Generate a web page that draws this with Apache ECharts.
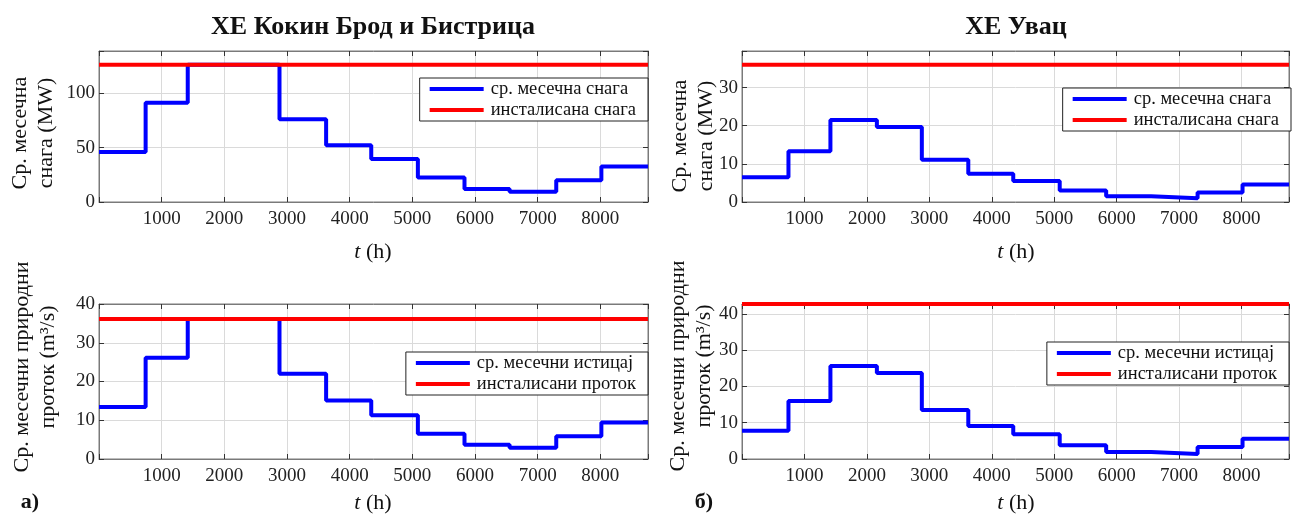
<!DOCTYPE html>
<html>
<head>
<meta charset="utf-8">
<script src="https://cdn.jsdelivr.net/npm/echarts@6/dist/echarts.min.js"></script>
<style>
  html, body { margin: 0; padding: 0; background: #fff; }
  #chart { width: 1292px; height: 517px; }
</style>
</head>
<body>
<div id="chart"></div>
<script>
// Month boundaries over one year, in hours
const monthEdges = [0, 744, 1416, 2160, 2880, 3624, 4344, 5088, 5832, 6552, 7296, 8016, 8760];
const xTicks = [1000, 2000, 3000, 4000, 5000, 6000, 7000, 8000];

// ХЕ Кокин Брод и Бистрица
const kbPower = [46, 91, 126, 126, 76, 52, 39.5, 22.5, 12, 9.5, 20, 32.5];
const kbPowerInstalled = 126;
const kbFlow = [13.4, 26.1, 36.1, 36.1, 22.0, 15.1, 11.3, 6.5, 3.7, 2.9, 5.9, 9.4];
const kbFlowInstalled = 36.1;

// ХЕ Увац
const uvPower = [6.5, 13.3, 21.5, 19.7, 11.1, 7.4, 5.5, 3.0, 1.5, 1.0, 2.5, 4.6];
const uvPowerInstalled = 36;
const uvFlow = [7.8, 16.0, 25.6, 23.7, 13.5, 9.1, 6.8, 3.8, 1.9, 1.4, 3.3, 5.6];
const uvFlowInstalled = 42.7;

// Series / legend names
const namePower = 'ср. месечна снага';
const namePowerInst = 'инсталисана снага';
const nameFlow = 'ср. месечни истицај';
const nameFlowInst = 'инсталисани проток';

const FONT = 'Liberation Serif';
const AXIS_GRAY = '#7a7a7a';
const GRID_GRAY = '#dadada';

function stepPoints(values) {
  const pts = values.map((v, i) => [monthEdges[i], v]);
  pts.push([monthEdges[monthEdges.length - 1], values[values.length - 1]]);
  return pts;
}
function flatLine(v) {
  return [[monthEdges[0], v], [monthEdges[monthEdges.length - 1], v]];
}

// Panel layouts
const panels = [
  { grid: { left: 99, top: 51, width: 549, height: 151 }, yMax: 138.6, yInt: 50,
    blue: kbPower, red: kbPowerInstalled, names: [namePower, namePowerInst], legend: { right: 644, top: 78 } },
  { grid: { left: 742, top: 51, width: 549, height: 151 }, yMax: 39.6, yInt: 10,
    blue: uvPower, red: uvPowerInstalled, names: [namePower, namePowerInst], legend: { right: 1, top: 88 } },
  { grid: { left: 99, top: 304, width: 549, height: 155 }, yMax: 40, yInt: 10,
    blue: kbFlow, red: kbFlowInstalled, names: [nameFlow, nameFlowInst], legend: { right: 644, top: 352 } },
  { grid: { left: 742, top: 304, width: 549, height: 155 }, yMax: 42.7, yInt: 10,
    blue: uvFlow, red: uvFlowInstalled, names: [nameFlow, nameFlowInst], legend: { right: 3, top: 342 } }
];

const grids = [], xAxes = [], yAxes = [], series = [], legends = [];
const tickStyle = { show: true, inside: true, length: 5, lineStyle: { color: '#333' } };
const lineStyleAxis = { show: true, onZero: false, lineStyle: { color: AXIS_GRAY, width: 1 } };

panels.forEach((p, i) => {
  grids.push(Object.assign({ show: true, borderColor: AXIS_GRAY, borderWidth: 1, backgroundColor: '#fff' }, p.grid));

  // bottom x axis with labels and grid
  xAxes.push({
    type: 'value', gridIndex: i, position: 'bottom', min: 0, max: 8760, interval: 1000,
    axisLine: lineStyleAxis, axisTick: tickStyle,
    axisLabel: {
      margin: 8, color: '#222', fontFamily: FONT, fontSize: 19,
      formatter: v => (xTicks.indexOf(v) >= 0 ? String(v) : '')
    },
    splitLine: { show: true, lineStyle: { color: GRID_GRAY, width: 1 } }
  });
  // top x axis: ticks only
  xAxes.push({
    type: 'value', gridIndex: i, position: 'top', min: 0, max: 8760, interval: 1000,
    axisLine: lineStyleAxis, axisTick: tickStyle,
    axisLabel: { show: false }, splitLine: { show: false }
  });
  // left y axis
  yAxes.push({
    type: 'value', gridIndex: i, position: 'left', min: 0, max: p.yMax, interval: p.yInt,
    axisLine: lineStyleAxis, axisTick: tickStyle,
    axisLabel: {
      margin: 4, color: '#222', fontFamily: FONT, fontSize: 19,
      formatter: v => (Math.abs(v / p.yInt - Math.round(v / p.yInt)) < 1e-6 ? String(v) : '')
    },
    splitLine: { show: true, lineStyle: { color: GRID_GRAY, width: 1 } }
  });
  // right y axis: ticks only
  yAxes.push({
    type: 'value', gridIndex: i, position: 'right', min: 0, max: p.yMax, interval: p.yInt,
    axisLine: lineStyleAxis, axisTick: tickStyle,
    axisLabel: { show: false }, splitLine: { show: false }
  });

  series.push({
    name: p.names[0], type: 'line', xAxisIndex: i * 2, yAxisIndex: i * 2,
    data: stepPoints(p.blue), step: 'end', showSymbol: false, symbol: 'none', clip: false,
    lineStyle: { color: '#0000ff', width: 4 }, itemStyle: { color: '#0000ff' }, z: 3
  });
  series.push({
    name: p.names[1], type: 'line', xAxisIndex: i * 2, yAxisIndex: i * 2,
    data: flatLine(p.red), showSymbol: false, symbol: 'none', clip: false,
    lineStyle: { color: '#ff0000', width: 4 }, itemStyle: { color: '#ff0000' }, z: 4
  });

  legends.push(Object.assign({
    orient: 'vertical',
    data: p.names, icon: 'rect', itemWidth: 54, itemHeight: 4, itemGap: 1,
    padding: [1, 12, 1, 10], backgroundColor: '#fff', borderColor: '#222', borderWidth: 1,
    selectedMode: false,
    textStyle: { fontFamily: FONT, fontSize: 18.5, color: '#111', lineHeight: 20, padding: [0, 0, 0, 2] }
  }, p.legend));
});

// Titles, axis names and panel labels
const txt = (x, y, text, extra) => ({
  type: 'text', x: x, y: y, z: 10, rotation: (extra && extra.rotation) || 0,
  style: Object.assign({
    text: text, fontFamily: FONT, fontSize: 22, fill: '#111',
    textAlign: 'center', textVerticalAlign: 'middle'
  }, (extra && extra.style) || {})
});
const tRich = { i: { fontStyle: 'italic', fontFamily: FONT, fontSize: 22, fill: '#111' } };

const graphic = [
  txt(373, 27, 'ХЕ Кокин Брод и Бистрица', { style: { fontWeight: 'bold', fontSize: 26 } }),
  txt(1016, 27, 'ХЕ Увац', { style: { fontWeight: 'bold', fontSize: 26 } }),
  txt(373, 252, '{i|t} (h)', { style: { rich: tRich } }),
  txt(1016, 252, '{i|t} (h)', { style: { rich: tRich } }),
  txt(373, 503, '{i|t} (h)', { style: { rich: tRich } }),
  txt(1016, 503, '{i|t} (h)', { style: { rich: tRich } }),
  txt(33, 133, 'Ср. месечна\nснага (MW)', { rotation: Math.PI / 2, style: { lineHeight: 26 } }),
  txt(693, 136, 'Ср. месечна\nснага (MW)', { rotation: Math.PI / 2, style: { lineHeight: 26 } }),
  txt(35, 367, 'Ср. месечни природни\nпроток (m³/s)', { rotation: Math.PI / 2, style: { lineHeight: 26 } }),
  txt(691, 366, 'Ср. месечни природни\nпроток (m³/s)', { rotation: Math.PI / 2, style: { lineHeight: 26 } }),
  txt(30, 502, 'а)', { style: { fontWeight: 'bold', fontSize: 22 } }),
  txt(704, 502, 'б)', { style: { fontWeight: 'bold', fontSize: 22 } })
];

const chart = echarts.init(document.getElementById('chart'), null, { renderer: 'canvas' });
chart.setOption({
  animation: false,
  backgroundColor: '#fff',
  grid: grids,
  xAxis: xAxes,
  yAxis: yAxes,
  legend: legends,
  series: series,
  graphic: graphic
});
</script>
</body>
</html>
